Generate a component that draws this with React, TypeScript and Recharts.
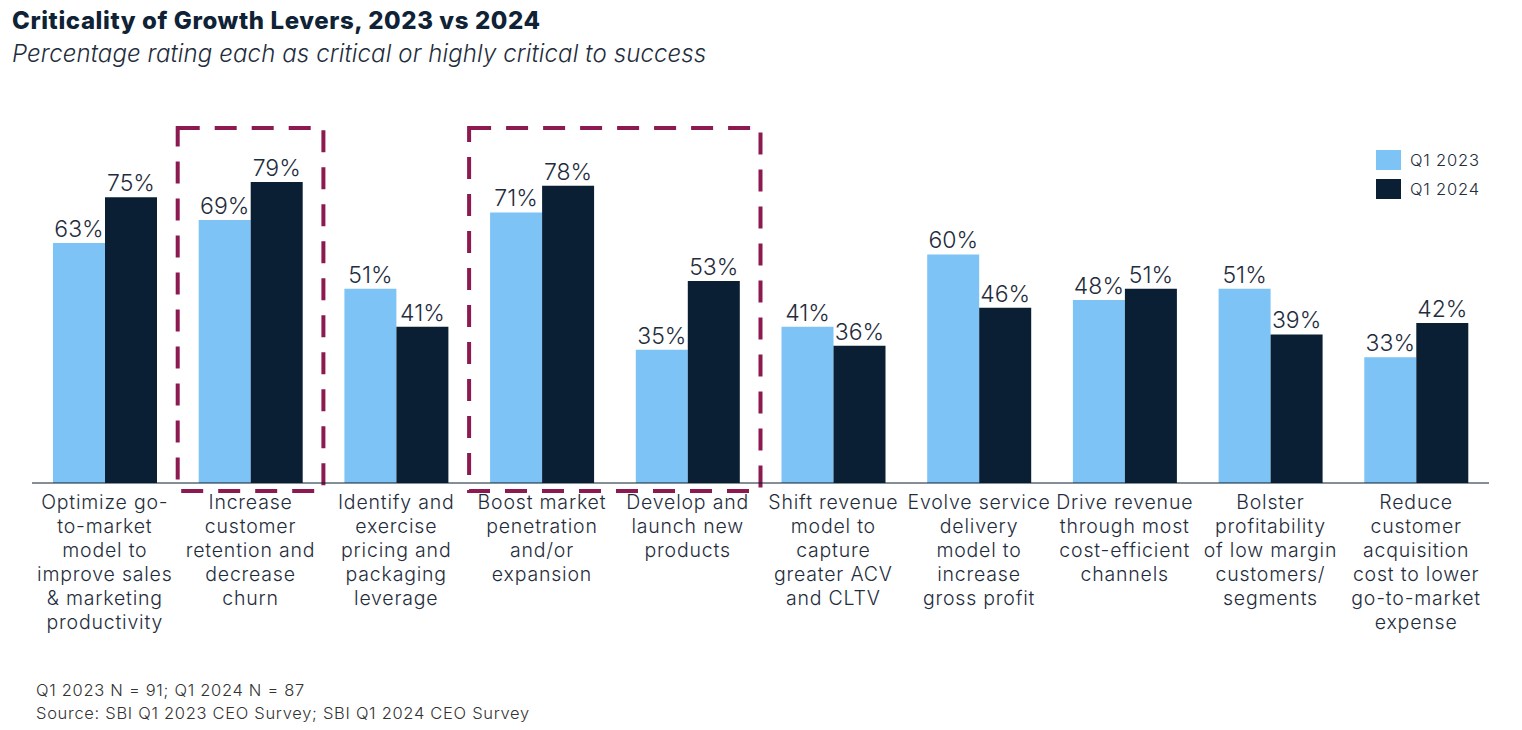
import { Bar, BarChart, LabelList, ReferenceArea, XAxis, YAxis } from 'recharts';

const categories = [
  'Optimize go-\nto-market\nmodel to\nimprove sales\n& marketing\nproductivity',
  'Increase\ncustomer\nretention and\ndecrease\nchurn',
  'Identify and\nexercise\npricing and\npackaging\nleverage',
  'Boost market\npenetration\nand/or\nexpansion',
  'Develop and\nlaunch new\nproducts',
  'Shift revenue\nmodel to\ncapture\ngreater ACV\nand CLTV',
  'Evolve service\ndelivery\nmodel to\nincrease\ngross profit',
  'Drive revenue\nthrough most\ncost-efficient\nchannels',
  'Bolster\nprofitability\nof low margin\ncustomers/\nsegments',
  'Reduce\ncustomer\nacquisition\ncost to lower\ngo-to-market\nexpense',
];

const q12023 = [63, 69, 51, 71, 35, 41, 60, 48, 51, 33];
const q12024 = [75, 79, 41, 78, 53, 36, 46, 51, 39, 42];

const seriesNames = ['Q1 2023', 'Q1 2024'];
const COLORS = ['#7DC3F6', '#0A1F33'];
const TEXT = '#1F2D3D';
const FONT = 'Inter, "Open Sans", sans-serif';

const data = categories.map((name, i) => ({
  name,
  q23: q12023[i],
  q24: q12024[i],
}));

// one <text> per line so lines stay separate
const CategoryTick = (props: any) => {
  const { x, y, payload } = props;
  const lines = String(payload.value).split('\n');
  return (
    <g>
      {lines.map((l, i) => (
        <text
          key={i}
          x={x}
          y={y + 18 + i * 24}
          textAnchor="middle"
          fill={TEXT}
          fontSize={19.5}
          letterSpacing={0.8}
          fontWeight={300}
          fontFamily={FONT}
        >
          {l}
        </text>
      ))}
    </g>
  );
};

export default function App() {
  return (
    <div style={{ position: 'absolute', left: 0, top: 0, width: 1522, height: 730, background: '#fff', fontFamily: FONT }}>
      <div style={{ position: 'absolute', left: 12, top: 6, fontSize: 24, letterSpacing: 0.6, fontWeight: 800, color: '#0F2236' }}>
        Criticality of Growth Levers, 2023 vs 2024
      </div>
      <div style={{ position: 'absolute', left: 12, top: 39, fontSize: 24, letterSpacing: 0.12, fontStyle: 'italic', fontWeight: 300, color: TEXT }}>
        Percentage rating each as critical or highly critical to success
      </div>
      <div style={{ position: 'absolute', left: 1376, top: 145, fontSize: 16.5, letterSpacing: 0.8, fontWeight: 300, color: TEXT }}>
        {seriesNames.map((n, i) => (
          <div key={n} style={{ display: 'flex', alignItems: 'center', height: 29 }}>
            <span style={{ width: 25, height: 20, background: COLORS[i], marginRight: 9, display: 'inline-block' }} />
            {n}
          </div>
        ))}
      </div>
      <BarChart
        width={1522}
        height={730}
        data={data}
        margin={{ top: 102, right: 33, bottom: 97, left: 32 }}
        barCategoryGap="14%"
        barGap={0}
        style={{ position: 'absolute', left: 0, top: 0 }}
      >
        <XAxis
          dataKey="name"
          interval={0}
          height={150}
          tickLine={false}
          axisLine={{ stroke: '#0A1F33', strokeWidth: 1 }}
          tick={<CategoryTick />}
        />
        <YAxis hide domain={[0, 100]} />
        <Bar dataKey="q23" name={seriesNames[0]} fill={COLORS[0]} barSize={52} isAnimationActive={false}>
          <LabelList dataKey="q23" position="top" offset={6} formatter={(v: any) => `${v}%`} fill={TEXT} fontSize={23} fontWeight={300} fontFamily={FONT} />
        </Bar>
        <Bar dataKey="q24" name={seriesNames[1]} fill={COLORS[1]} barSize={52} isAnimationActive={false}>
          <LabelList dataKey="q24" position="top" offset={6} formatter={(v: any) => `${v}%`} fill={TEXT} fontSize={23} fontWeight={300} fontFamily={FONT} />
        </Bar>
        <ReferenceArea
          x1={categories[1]}
          x2={categories[1]}
          y1={-2.1}
          y2={93.2}
          ifOverflow="visible"
          fill="none"
          stroke="#8C1A51"
          strokeWidth={4}
          strokeDasharray="22 15"
        />
        <ReferenceArea
          x1={categories[3]}
          x2={categories[4]}
          y1={-2.1}
          y2={93.2}
          ifOverflow="visible"
          fill="none"
          stroke="#8C1A51"
          strokeWidth={4}
          strokeDasharray="22 15"
        />
      </BarChart>
      <div style={{ position: 'absolute', left: 36, top: 679, fontSize: 16.5, letterSpacing: 0.7, fontWeight: 300, color: '#333', lineHeight: '23px' }}>
        <div>Q1 2023 N = 91; Q1 2024 N = 87</div>
        <div>Source: SBI Q1 2023 CEO Survey; SBI Q1 2024 CEO Survey</div>
      </div>
    </div>
  );
}
